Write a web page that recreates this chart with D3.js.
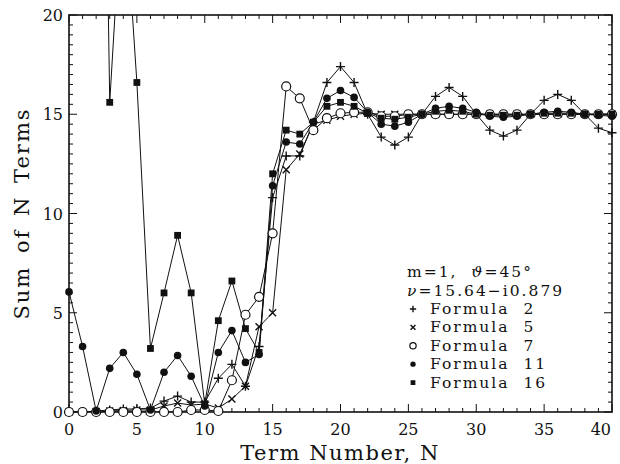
<!DOCTYPE html>
<html>
<head>
<meta charset="utf-8">
<script src="https://cdn.jsdelivr.net/npm/d3@7"></script>
<style>
  body { margin: 0; background: #fff; }
  svg { display: block; }
  text { font-family: "DejaVu Serif", serif; fill: #111; }
</style>
</head>
<body>
<svg id="chart" width="620" height="464"></svg>
<script>
// term number N = 0..40
const terms = d3.range(0, 41);

// partial sums (null = not drawn)
const formula2 = [0, 0, 0.05, 0.1, 0.15, 0.15, 0.2, 0.55, 0.8, 0.5, 0.5, 1.7, 2.4, 1.3, 3.3,
  10.8, 12.9, 12.9, 14.6, 16.6, 17.4, 16.6, 15.0, 13.85, 13.45, 13.85, 15.0, 15.9, 16.35, 15.9,
  15.0, 14.2, 13.9, 14.2, 15.0, 15.7, 16.0, 15.7, 15.0, 14.3, 14.07];
const formula5 = [0, 0, 0.02, 0.05, 0.08, 0.1, 0.1, 0.3, 0.45, 0.35, 0.4, 0.2, 0.65, 1.3, 4.3,
  5.0, 12.2, 13.0, 14.5, 14.7, 14.9, 15.0, 15.05, 15.0, 15.0, 15.0, 15.0, 15.0, 15.0, 15.0,
  15.0, 15.0, 15.0, 15.0, 15.0, 15.0, 15.0, 15.0, 15.0, 15.0, 15.0];
const formula7 = [0, 0, 0, 0, 0, 0, 0, 0, 0, 0.1, 0.1, 0.05, 1.6, 4.9, 5.8,
  9.0, 16.4, 15.8, 14.2, 14.8, 15.05, 15.1, 15.1, 14.9, 14.9, 15.0, 15.0, 15.0, 15.0, 15.0,
  15.0, 15.0, 15.0, 15.0, 15.0, 15.0, 15.0, 15.0, 15.0, 15.0, 15.0];
const formula11 = [6.05, 3.3, 0.05, 2.2, 3.0, 1.9, 0.1, 2.0, 2.85, 1.8, 0.3, 3.0, 4.1, 2.5, 2.9,
  11.4, 13.6, 13.5, 14.6, 15.8, 16.2, 15.85, 15.1, 14.5, 14.4, 14.6, 15.0, 15.3, 15.4, 15.3,
  15.1, 14.9, 14.85, 14.9, 15.0, 15.1, 15.15, 15.1, 15.0, 14.95, 14.9];
const formula16 = [null, null, 60, 15.6, 27, 16.6, 3.2, 6.0, 8.9, 6.0, 0.4, 4.6, 6.6, 4.2, 3.0,
  12.0, 14.2, 14.0, 14.6, 15.4, 15.6, 15.4, 15.05, 14.8, 14.75, 14.85, 15.0, 15.15, 15.2, 15.15,
  15.0, 14.95, 14.95, 14.95, 15.0, 15.05, 15.05, 15.05, 15.0, 15.0, 15.0];

const xTicks = [0, 5, 10, 15, 20, 25, 30, 35, 40];
const yTicks = [0, 5, 10, 15, 20];

const series = [
  { name: "Formula 2", values: formula2, marker: "plus" },
  { name: "Formula 5", values: formula5, marker: "cross" },
  { name: "Formula 7", values: formula7, marker: "circle" },
  { name: "Formula 11", values: formula11, marker: "dot" },
  { name: "Formula 16", values: formula16, marker: "square" }
];

const svg = d3.select("#chart");
const margin = { top: 15, right: 8, bottom: 52, left: 69 };
const width = 620, height = 464;

const x = d3.scaleLinear().domain([0, 40]).range([margin.left, width - margin.right]);
const y = d3.scaleLinear().domain([0, 20]).range([height - margin.bottom, margin.top]);

svg.append("clipPath").attr("id", "clip")
  .append("rect")
  .attr("x", x(0)).attr("y", y(20))
  .attr("width", x(40) - x(0)).attr("height", y(0) - y(20));

// ticks, inward on all four sides
const xMinor = d3.range(0, 41, 1);
const yMinor = d3.range(0, 20.01, 0.5);
const tickG = svg.append("g").attr("stroke", "#111").attr("stroke-width", 1);

xMinor.forEach(v => {
  const len = v % 5 === 0 ? 8 : 4;
  tickG.append("line").attr("x1", x(v)).attr("x2", x(v)).attr("y1", y(0)).attr("y2", y(0) - len);
  tickG.append("line").attr("x1", x(v)).attr("x2", x(v)).attr("y1", y(20)).attr("y2", y(20) + len);
});
yMinor.forEach(v => {
  const len = v % 5 === 0 ? 8 : 4;
  tickG.append("line").attr("y1", y(v)).attr("y2", y(v)).attr("x1", x(0)).attr("x2", x(0) + len);
  tickG.append("line").attr("y1", y(v)).attr("y2", y(v)).attr("x1", x(40)).attr("x2", x(40) - len);
});

// frame
svg.append("rect")
  .attr("x", x(0)).attr("y", y(20))
  .attr("width", x(40) - x(0)).attr("height", y(0) - y(20))
  .attr("fill", "none").attr("stroke", "#111").attr("stroke-width", 1.6);

// tick labels (last one pulled in so it stays on the page)
svg.append("g").selectAll("text")
  .data(xTicks).join("text")
  .attr("x", d => d === 40 ? x(d) - 1 : x(d))
  .attr("y", y(0) + 23)
  .attr("text-anchor", d => d === 40 ? "end" : "middle")
  .attr("font-size", 16)
  .text(d => d);

svg.append("g").selectAll("text")
  .data(yTicks).join("text")
  .attr("x", x(0) - 6).attr("y", d => y(d) + 6)
  .attr("text-anchor", "end")
  .attr("font-size", 16)
  .text(d => d);

// axis titles
svg.append("text")
  .attr("x", 340).attr("y", 460)
  .attr("text-anchor", "middle")
  .attr("font-size", 21)
  .attr("letter-spacing", 1.5)
  .text("Term Number, N");

svg.append("text")
  .attr("transform", `translate(29,${(y(0) + y(20)) / 2}) rotate(-90)`)
  .attr("text-anchor", "middle")
  .attr("font-size", 21)
  .attr("letter-spacing", 2)
  .attr("word-spacing", 4)
  .text("Sum of N Terms");

// lines
const line = d3.line()
  .defined(d => d.v !== null)
  .x(d => x(d.n))
  .y(d => y(d.v));

const plot = svg.append("g").attr("clip-path", "url(#clip)");

series.forEach(s => {
  const pts = terms.map((n, i) => ({ n, v: s.values[i] }));
  plot.append("path")
    .datum(pts)
    .attr("d", line)
    .attr("fill", "none")
    .attr("stroke", "#111")
    .attr("stroke-width", 1);
});

function drawMarker(g, type, cx, cy, scale = 1) {
  if (type === "plus") {
    const r = 4.5 * scale;
    g.append("path").attr("d", `M${cx - r},${cy}H${cx + r}M${cx},${cy - r}V${cy + r}`)
      .attr("stroke", "#111").attr("stroke-width", 1.4);
  } else if (type === "cross") {
    const r = 3.5 * scale;
    g.append("path").attr("d", `M${cx - r},${cy - r}L${cx + r},${cy + r}M${cx - r},${cy + r}L${cx + r},${cy - r}`)
      .attr("stroke", "#111").attr("stroke-width", 1.4);
  } else if (type === "circle") {
    g.append("circle").attr("cx", cx).attr("cy", cy).attr("r", 4.5 * scale)
      .attr("fill", "#fff").attr("stroke", "#111").attr("stroke-width", 1.2);
  } else if (type === "dot") {
    g.append("circle").attr("cx", cx).attr("cy", cy).attr("r", 3.8 * scale)
      .attr("fill", "#111");
  } else if (type === "square") {
    const r = 3.4 * scale;
    g.append("rect").attr("x", cx - r).attr("y", cy - r).attr("width", 2 * r).attr("height", 2 * r)
      .attr("fill", "#111");
  }
}

// markers are not clipped, so the ones sitting on the axis show whole
const markG = svg.append("g");
series.forEach(s => {
  const g = markG.append("g");
  terms.forEach((n, i) => {
    const v = s.values[i];
    if (v === null || v > 20.5) return;
    drawMarker(g, s.marker, x(n), y(v));
  });
});

// legend
const legend = svg.append("g").attr("font-size", 15.5).attr("letter-spacing", 2);
legend.append("text").attr("x", 407).attr("y", 277)
  .html("m=1,&#160;&#160;<tspan font-style='italic'>ϑ</tspan>=45°");
legend.append("text").attr("x", 407).attr("y", 295.5)
  .html("<tspan font-style='italic'>ν</tspan>=15.64−i0.879");
series.forEach((s, i) => {
  const ly = 314 + i * 18.4;
  drawMarker(legend, s.marker, 413, ly - 5, 0.7);
  legend.append("text").attr("x", 430).attr("y", ly)
    .html(s.name.replace(" ", "&#160;&#160;"));
});
</script>
</body>
</html>
